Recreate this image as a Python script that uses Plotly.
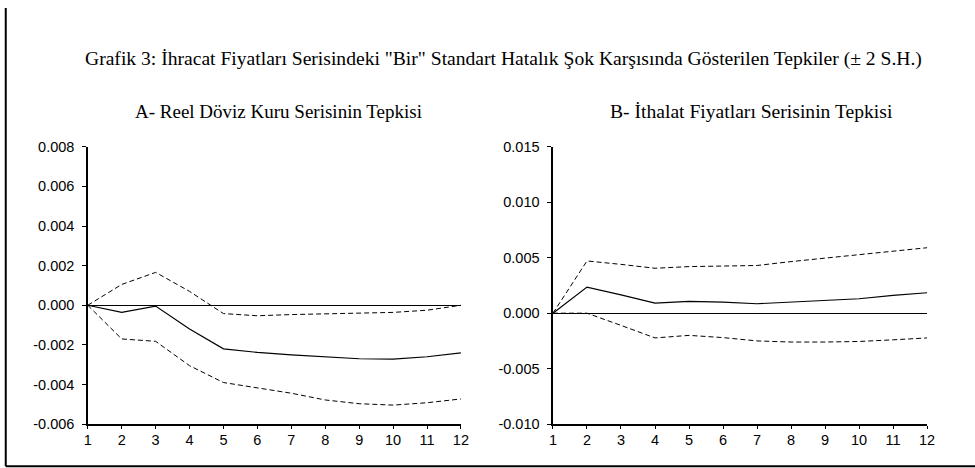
import plotly.graph_objects as go

# ---- data ----
periods = [1, 2, 3, 4, 5, 6, 7, 8, 9, 10, 11, 12]

a_resp = [0.0, -0.00036, -0.00004, -0.0012, -0.0022, -0.00238, -0.0025, -0.0026, -0.0027, -0.00272, -0.0026, -0.0024]
a_upper = [0.0, 0.00105, 0.00166, 0.0007, -0.00042, -0.00053, -0.00047, -0.00044, -0.0004, -0.00036, -0.00025, 0.0]
a_lower = [0.0, -0.0017, -0.00182, -0.00305, -0.0039, -0.00416, -0.00444, -0.00478, -0.00497, -0.00504, -0.00492, -0.00473]

b_resp = [0.0, 0.00235, 0.00165, 0.0009, 0.00106, 0.001, 0.00085, 0.001, 0.00115, 0.0013, 0.0016, 0.00184]
b_upper = [0.0, 0.00471, 0.0044, 0.00405, 0.0042, 0.00425, 0.0043, 0.00465, 0.00495, 0.00525, 0.0056, 0.0059]
b_lower = [0.0, 0.0, -0.0011, -0.00223, -0.002, -0.0022, -0.0025, -0.0026, -0.0026, -0.00255, -0.0024, -0.00223]

a_ticks = [-0.006, -0.004, -0.002, 0.0, 0.002, 0.004, 0.006, 0.008]
a_ticktext = ["-0.006", "-0.004", "-0.002", "0.000", "0.002", "0.004", "0.006", "0.008"]
b_ticks = [-0.010, -0.005, 0.0, 0.005, 0.010, 0.015]
b_ticktext = ["-0.010", "-0.005", "0.000", "0.005", "0.010", "0.015"]

title_text = 'Grafik 3: İhracat Fiyatları Serisindeki "Bir" Standart Hatalık Şok Karşısında Gösterilen Tepkiler (± 2 S.H.)'
sub_a = "A- Reel Döviz Kuru Serisinin Tepkisi"
sub_b = "B- İthalat Fiyatları Serisinin Tepkisi"

W, H = 990, 488
serif = "Liberation Serif"
sans = "Liberation Sans"

# screen-to-figure pixel mapping of the capture
OX, SX, OY, SY = 4.25, 0.9875, 8.9, 0.9625
def fx(s):
    return (s - OX) / SX / W
def fy(s):
    return 1 - (s - OY) / SY / H

fig = go.Figure()

def add_panel(xa, ya, resp, up, lo):
    fig.add_trace(go.Scatter(x=periods, y=up, mode="lines", xaxis=xa, yaxis=ya,
                             line=dict(color="black", width=1, dash="5px,3px"), showlegend=False))
    fig.add_trace(go.Scatter(x=periods, y=lo, mode="lines", xaxis=xa, yaxis=ya,
                             line=dict(color="black", width=1, dash="5px,3px"), showlegend=False))
    fig.add_trace(go.Scatter(x=periods, y=resp, mode="lines", xaxis=xa, yaxis=ya,
                             line=dict(color="black", width=1.2), showlegend=False))

add_panel("x", "y", a_resp, a_upper, a_lower)
add_panel("x2", "y2", b_resp, b_upper, b_lower)

common_x = dict(range=[1, 12], tickvals=periods, showgrid=False, zeroline=False,
                showline=True, linecolor="black", linewidth=1.5, ticks="outside",
                ticklen=3, tickcolor="black", ticklabelstandoff=-1,
                tickfont=dict(family=sans, size=14.5, color="black"))
common_y = dict(showgrid=False, zeroline=True, zerolinecolor="black", zerolinewidth=1,
                showline=True, linecolor="black", linewidth=1.5, ticks="outside",
                ticklen=4, tickcolor="black", ticklabelstandoff=5,
                tickfont=dict(family=sans, size=14.5, color="black"))

shapes = [
    dict(type="line", xref="paper", yref="paper", x0=fx(6), y0=fy(465), x1=fx(6), y1=1,
         line=dict(color="black", width=2)),
    dict(type="line", xref="paper", yref="paper", x0=fx(6), y0=fy(465), x1=1, y1=fy(465),
         line=dict(color="black", width=2)),
]

fig.update_layout(
    width=W, height=H,
    margin=dict(l=0, r=0, t=0, b=0),
    paper_bgcolor="white", plot_bgcolor="white",
    hovermode=False,
    xaxis=dict(domain=[fx(88), fx(461)], anchor="y", **common_x),
    yaxis=dict(domain=[fy(423), fy(147)], anchor="x", range=[-0.006, 0.008],
               tickvals=a_ticks, ticktext=a_ticktext, **common_y),
    xaxis2=dict(domain=[fx(553), fx(927)], anchor="y2", **common_x),
    yaxis2=dict(domain=[fy(423), fy(147)], anchor="x2", range=[-0.010, 0.015],
                tickvals=b_ticks, ticktext=b_ticktext, **common_y),
    annotations=[
        dict(text=title_text, x=fx(503.5), y=fy(59.5), xref="paper", yref="paper",
             xanchor="center", yanchor="middle", showarrow=False,
             font=dict(family=serif, size=19.6, color="black")),
        dict(text=sub_a, x=fx(278.5), y=fy(111.5), xref="paper", yref="paper",
             xanchor="center", yanchor="middle", showarrow=False,
             font=dict(family=serif, size=19, color="black")),
        dict(text=sub_b, x=fx(751.5), y=fy(111.5), xref="paper", yref="paper",
             xanchor="center", yanchor="middle", showarrow=False,
             font=dict(family=serif, size=19.6, color="black")),
    ],
    shapes=shapes,
)

page_fix = (
    "document.documentElement.style.overflow='hidden';"
    "document.body.style.margin='0';"
    "document.body.style.overflow='hidden';"
)

fig.write_html("out.html", post_script=page_fix,
               config={"displayModeBar": False, "staticPlot": True})
